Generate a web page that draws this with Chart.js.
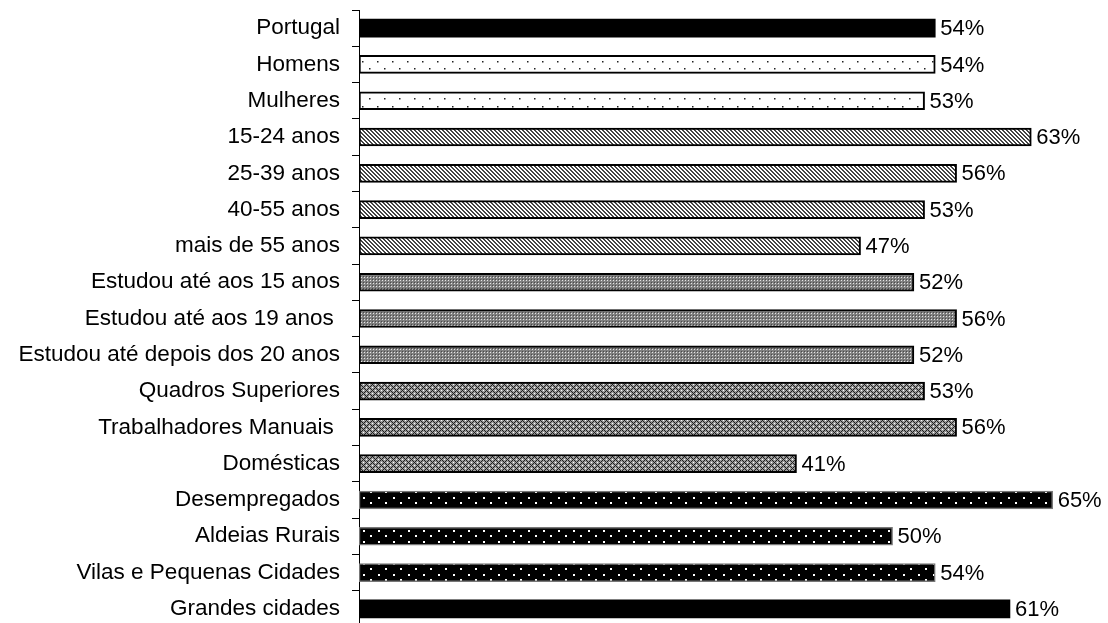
<!DOCTYPE html>
<html>
<head>
<meta charset="utf-8">
<script src="https://cdn.jsdelivr.net/npm/chart.js@4/dist/chart.umd.min.js"></script>
<style>
  html, body { margin: 0; padding: 0; background: #fff; overflow: hidden; }
  #wrap { width: 1108px; height: 623px; overflow: hidden; }
</style>
</head>
<body>
<div id="wrap"><canvas id="grafico" width="1108" height="640"></canvas></div>
<script>
const categorias = [
  'Portugal', 'Homens', 'Mulheres', '15-24 anos', '25-39 anos', '40-55 anos',
  'mais de 55 anos', 'Estudou até aos 15 anos', 'Estudou até aos 19 anos ',
  'Estudou até depois dos 20 anos', 'Quadros Superiores', 'Trabalhadores Manuais ',
  'Domésticas', 'Desempregados', 'Aldeias Rurais', 'Vilas e Pequenas Cidades', 'Grandes cidades'
];
const valores = [54, 54, 53, 63, 56, 53, 47, 52, 56, 52, 53, 56, 41, 65, 50, 54, 61];
// padrão de preenchimento por barra
const padroes = [
  'preto', 'pontos', 'pontos', 'riscas', 'riscas', 'riscas', 'riscas',
  'xadrez', 'xadrez', 'xadrez', 'trama', 'trama', 'trama',
  'pontosPretos', 'pontosPretos', 'pontosPretos', 'preto'
];

const ctx = document.getElementById('grafico').getContext('2d');

function padrao(w, h, desenha) {
  const c = document.createElement('canvas');
  c.width = w; c.height = h;
  const g = c.getContext('2d');
  desenha(g);
  return ctx.createPattern(c, 'repeat');
}

const preenchimentos = {
  preto: '#000',
  pontos: padrao(15, 15, g => {
    g.fillStyle = '#fff'; g.fillRect(0, 0, 15, 15);
    g.fillStyle = '#222';
    g.fillRect(2, 1, 1.5, 1.5); g.fillRect(9, 8, 1.5, 1.5);
  }),
  riscas: padrao(4, 4, g => {
    for (let x = 0; x < 4; x++) for (let y = 0; y < 4; y++) {
      g.fillStyle = ((x - y + 4) % 4 < 2) ? '#444' : '#fff';
      g.fillRect(x, y, 1, 1);
    }
  }),
  xadrez: padrao(3, 3, g => {
    g.fillStyle = '#808080'; g.fillRect(0, 0, 3, 3);
    g.fillStyle = '#e6e6e6'; g.fillRect(1, 1, 1, 1);
    g.fillStyle = '#4a4a4a'; g.fillRect(0, 0, 1, 1);
  }),
  trama: padrao(6, 6, g => {
    for (let x = 0; x < 6; x++) for (let y = 0; y < 6; y++) {
      let c = '#9a9a9a';
      if ((x + y) % 6 === 0 || (x - y + 6) % 6 === 0) c = '#1e1e1e';
      if ((x === 3 && y === 0) || (x === 0 && y === 3)) c = '#fff';
      g.fillStyle = c; g.fillRect(x, y, 1, 1);
    }
  }),
  pontosPretos: padrao(15, 11, g => {
    g.fillStyle = '#000'; g.fillRect(0, 0, 15, 11);
    g.fillStyle = '#fff';
    g.fillRect(3, 2, 2, 2); g.fillRect(10, 7, 2, 2);
  })
};

const rotulosValor = {
  id: 'rotulosValor',
  afterDatasetsDraw(chart) {
    const c = chart.ctx;
    c.save();
    c.font = '22px "Liberation Sans", Arial, sans-serif';
    c.fillStyle = '#000';
    c.textAlign = 'left';
    c.textBaseline = 'middle';
    chart.getDatasetMeta(0).data.forEach((bar, i) => {
      c.fillText(valores[i] + '%', bar.x + 5, bar.y + 1);
    });
    c.restore();
  }
};

new Chart(ctx, {
  type: 'bar',
  data: {
    labels: categorias,
    datasets: [{
      data: valores,
      backgroundColor: padroes.map(p => preenchimentos[p]),
      borderColor: padroes.map(p => p === 'pontosPretos' ? '#777' : '#000'),
      borderWidth: padroes.map(p => p === 'preto' ? 0 : (p === 'pontosPretos' ? 1.5 : 2)),
      borderSkipped: false,
      barThickness: 18
    }]
  },
  options: {
    indexAxis: 'y',
    responsive: false,
    animation: false,
    layout: { padding: { left: 0, right: 2, top: 10, bottom: 13 } },
    plugins: { legend: { display: false }, tooltip: { enabled: false } },
    scales: {
      x: { display: false, min: 0, max: 70 },
      y: {
        afterFit(scale) {
          scale.width = 359;
          scale.paddingTop = 0;
          scale.paddingBottom = 0;
        },
        grid: { drawOnChartArea: false, tickLength: 7, color: '#000', offset: true },
        border: { display: true, color: '#000', width: 1 },
        ticks: {
          padding: 12,
          color: '#000',
          font: { family: '"Liberation Sans", Arial, sans-serif', size: 22.5 }
        }
      }
    }
  },
  plugins: [rotulosValor]
});
</script>
</body>
</html>
